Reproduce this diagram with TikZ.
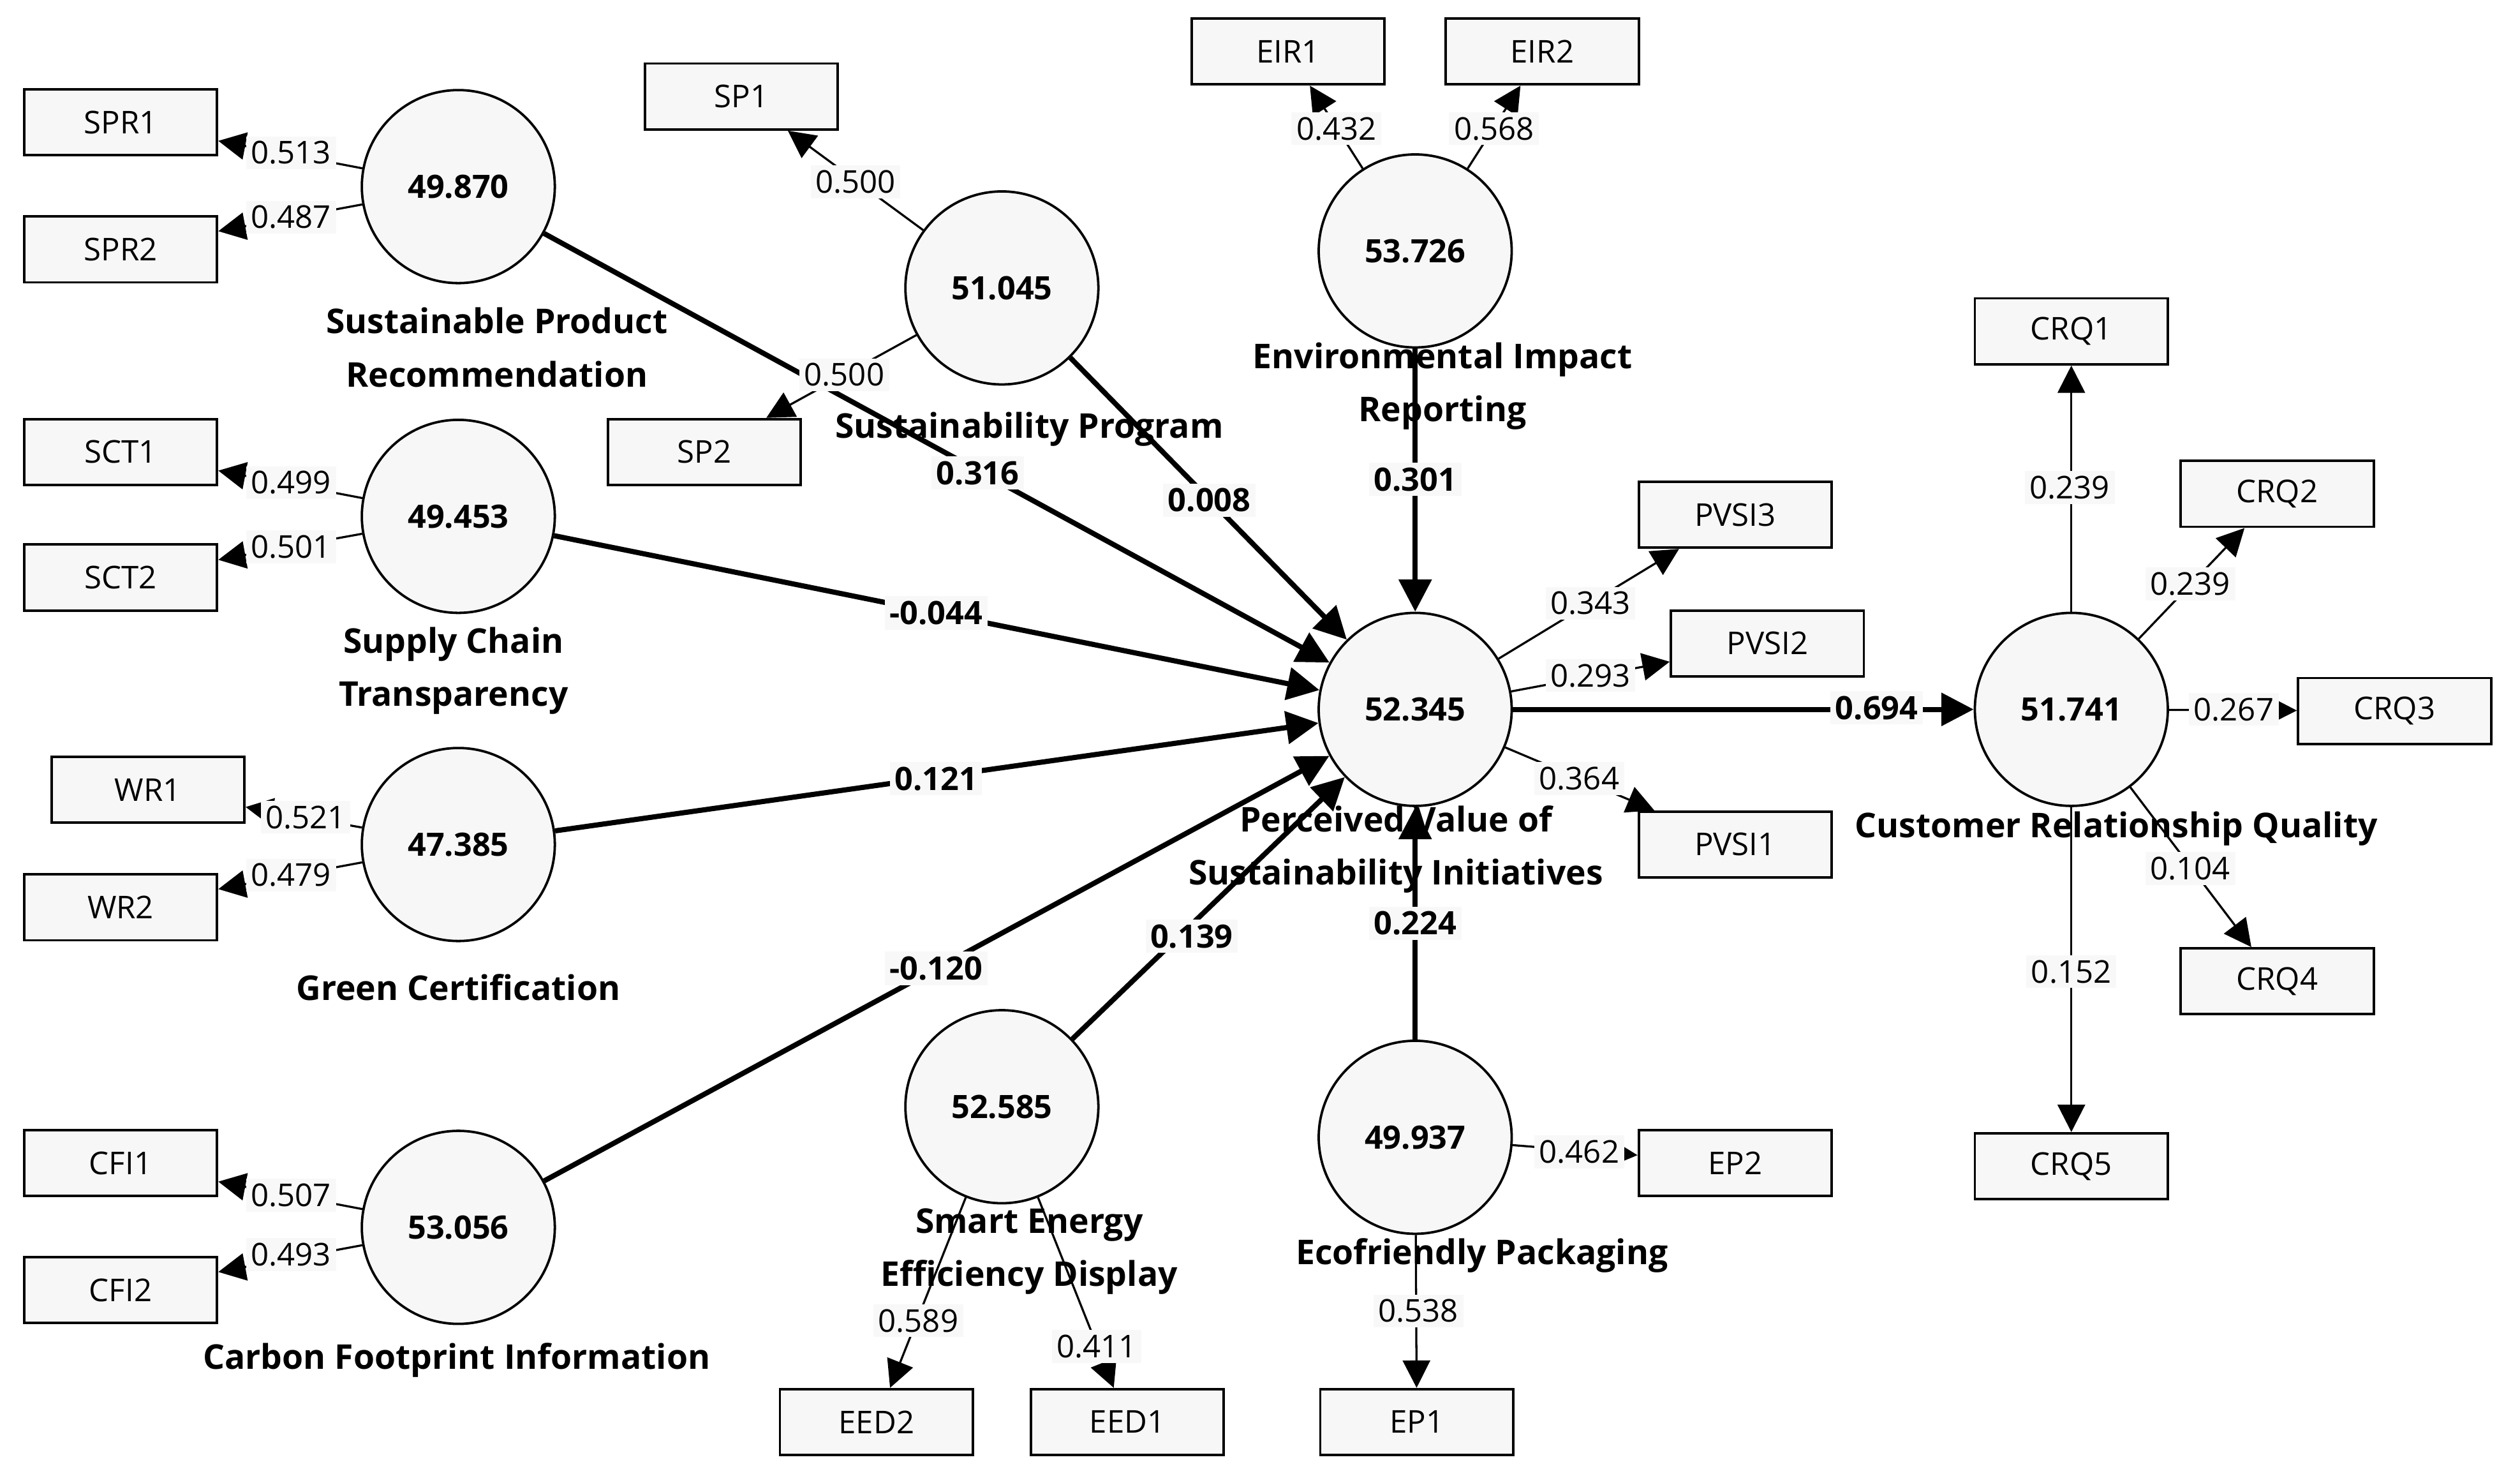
\documentclass[tikz,border=0pt]{standalone}
\usepackage{fontspec}
\setmainfont{Open Sans}
\usetikzlibrary{arrows.meta}
\definecolor{fillc}{HTML}{F7F7F7}
\definecolor{lblbg}{HTML}{F8F8F8}
\begin{document}
\begin{tikzpicture}[x=1pt,y=-1pt,
  lv/.style={circle,draw,line width=1.5pt,fill=fillc,minimum size=120pt,inner sep=0pt,
    font=\fontsize{20}{24}\selectfont\bfseries},
  mv/.style={rectangle,draw,line width=1.5pt,fill=fillc,minimum width=120pt,minimum height=41pt,
    inner sep=0pt,font=\fontsize{19.5}{24}\selectfont},
  pathc/.style={line width=3.2pt,-{Triangle[length=20pt,width=20pt]}},
  ldc/.style={line width=1.3pt,-{Triangle[length=17pt,width=17pt]}},
  coef/.style={fill=lblbg,inner xsep=3pt,inner ysep=3pt,font=\fontsize{20}{24}\selectfont\bfseries},
  ldl/.style={fill=lblbg,inner xsep=3pt,inner ysep=3pt,font=\fontsize{19.5}{24}\selectfont},
  cname/.style={align=center,inner sep=0pt,font=\fontsize{21.2}{33}\selectfont\bfseries}]
\useasboundingbox (0,0) rectangle (1567,913.2);
\fill[white] (0,0) rectangle (1567,913.2);

% latent variables
\node[lv] (SPR) at (285,116) {49.870};
\node[lv] (SP)  at (623,179) {51.045};
\node[lv] (EIR) at (880,156) {53.726};
\node[lv] (SCT) at (285,321) {49.453};
\node[lv] (PV)  at (880,441) {52.345};
\node[lv] (GC)  at (285,525) {47.385};
\node[lv] (CFI) at (285,763) {53.056};
\node[lv] (EED) at (623,688) {52.585};
\node[lv] (EP)  at (880,707) {49.937};
\node[lv] (CRQ) at (1288,441) {51.741};

% indicators
\node[mv] (SPR1) at (75,76) {SPR1};
\node[mv] (SPR2) at (75,155) {SPR2};
\node[mv] (SP1) at (461,60) {SP1};
\node[mv] (SP2) at (438,281) {SP2};
\node[mv] (EIR1) at (801,32) {EIR1};
\node[mv] (EIR2) at (959,32) {EIR2};
\node[mv] (SCT1) at (75,281) {SCT1};
\node[mv] (SCT2) at (75,359) {SCT2};
\node[mv] (WR1) at (92,491) {WR1};
\node[mv] (WR2) at (75,564) {WR2};
\node[mv] (CFI1) at (75,723) {CFI1};
\node[mv] (CFI2) at (75,802) {CFI2};
\node[mv] (EED2) at (545,884) {EED2};
\node[mv] (EED1) at (701,884) {EED1};
\node[mv] (EP1) at (881,884) {EP1};
\node[mv] (EP2) at (1079,723) {EP2};
\node[mv] (PVSI3) at (1079,320) {PVSI3};
\node[mv] (PVSI2) at (1099,400) {PVSI2};
\node[mv] (PVSI1) at (1079,525) {PVSI1};
\node[mv] (CRQ1) at (1288,206) {CRQ1};
\node[mv] (CRQ2) at (1416,307) {CRQ2};
\node[mv] (CRQ3) at (1489,442) {CRQ3};
\node[mv] (CRQ4) at (1416,610) {CRQ4};
\node[mv] (CRQ5) at (1288,725) {CRQ5};

% outer (loading) connectors
\foreach \a/\b in {SPR/SPR1,SPR/SPR2,SP/SP1,SP/SP2,EIR/EIR1,EIR/EIR2,SCT/SCT1,SCT/SCT2,
  GC/WR1,GC/WR2,CFI/CFI1,CFI/CFI2,EED/EED2,EED/EED1,EP/EP1,EP/EP2,
  PV/PVSI3,PV/PVSI2,PV/PVSI1,CRQ/CRQ1,CRQ/CRQ2,CRQ/CRQ3,CRQ/CRQ4,CRQ/CRQ5}
  \draw[ldc] (\a) -- (\b);

% structural connectors
\foreach \a in {SPR,SP,EIR,SCT,GC,CFI,EED,EP}
  \draw[pathc] (\a) -- (PV);
\draw[pathc] (PV) -- (CRQ);

% loading labels
\node[ldl] (l1) at (181,95) {0.513};
\node[ldl] (l2) at (181,135) {0.487};
\node[ldl] (l3) at (532,113) {0.500};
\node[ldl] (l4) at (525,233) {0.500};
\node[ldl] (l5) at (831,80) {0.432};
\node[ldl] (l6) at (929,80) {0.568};
\node[ldl] (l7) at (181,300) {0.499};
\node[ldl] (l8) at (181,340) {0.501};
\node[ldl] (l9) at (190,508) {0.521};
\node[ldl] (l10) at (181,544) {0.479};
\node[ldl] (l11) at (181,743) {0.507};
\node[ldl] (l12) at (181,780) {0.493};
\node[ldl] (l13) at (571,821) {0.589};
\node[ldl] (l14) at (682,837) {0.411};
\node[ldl] (l15) at (882,815) {0.538};
\node[ldl] (l16) at (982,716) {0.462};
\node[ldl] (l17) at (989,375) {0.343};
\node[ldl] (l18) at (989,420) {0.293};
\node[ldl] (l19) at (982,484) {0.364};
\node[ldl] (l20) at (1287,303) {0.239};
\node[ldl] (l21) at (1362,363) {0.239};
\node[ldl] (l22) at (1389,441) {0.267};
\node[ldl] (l23) at (1362,540) {0.104};
\node[ldl] (l24) at (1288,604) {0.152};

% path coefficients
\node[coef] (c1) at (608,294) {0.316};
\node[coef] (c2) at (752,311) {0.008};
\node[coef] (c3) at (880,298) {0.301};
\node[coef] (c4) at (582,381) {-0.044};
\node[coef] (c5) at (582,484) {0.121};
\node[coef] (c6) at (582,602) {-0.120};
\node[coef] (c7) at (741,582) {0.139};
\node[coef] (c8) at (880,574) {0.224};
\node[coef] (c9) at (1167,440) {0.694};

% construct names
\node[cname] (nSPR) at (309,216) {Sustainable Product\\Recommendation};
\node[cname,anchor=base] (nSP) at (640,272.5) {Sustainability Program};
\node[cname] (nEIR) at (897,240) {Environmental Impact\\Reporting};
\node[cname] (nSCT) at (282,417) {Supply Chain\\Transparency};
\node[cname,anchor=base] (nGC) at (285,622) {Green Certification};
\node[cname,anchor=base] (nCFI) at (284,851) {Carbon Footprint Information};
\node[cname] (nPV) at (868,528) {Perceived Value of\\Sustainability Initiatives};
\node[cname] (nEED) at (640,778) {Smart Energy\\Efficiency Display};
\node[cname,anchor=base] (nEP) at (921.5,786) {Ecofriendly Packaging};
\node[cname,anchor=base] (nCRQ) at (1316,520.5) {Customer Relationship Quality};
\end{tikzpicture}
\end{document}
